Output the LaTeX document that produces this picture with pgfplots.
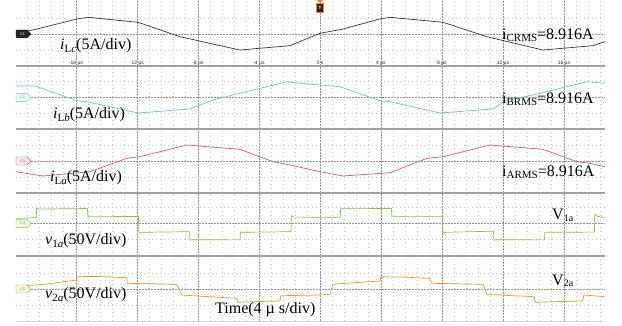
\documentclass[border=0pt]{standalone}
\usepackage{fontspec}
\setmainfont{Liberation Serif}
\newfontfamily\scopefont{Liberation Sans}
\usepackage{pgfplots}
\pgfplotsset{compat=1.18}

\definecolor{chOne}{RGB}{55,55,55}
\definecolor{chTwo}{RGB}{95,200,210}
\definecolor{chThree}{RGB}{225,85,115}
\definecolor{chFour}{RGB}{140,195,70}
\definecolor{chFive}{RGB}{240,150,45}
\definecolor{sepgray}{RGB}{160,160,160}
\definecolor{trig}{RGB}{235,125,30}

\newcommand\lab{\fontsize{16}{19}\selectfont}
\newcommand\sub[2][-3pt]{\raisebox{#1}{\fontsize{11}{11}\selectfont #2}}
\newcommand\tagfont{\scopefont\fontsize{3.6}{4}\selectfont}

% channel tag on the left edge of a panel
\newcommand\chtag[5]{%
  \begin{scope}[yshift=#1]
    \filldraw[fill=#2, draw=#3, line width=0.4pt, rounded corners=0.6pt]
      (16pt,4pt) -- (27pt,4pt) -- (31pt,0pt) -- (27pt,-4pt) -- (16pt,-4pt) -- cycle;
    \node[text=#4, font=\tagfont, inner sep=0pt] at (22.5pt,0pt) {#5};
  \end{scope}}

\pgfplotsset{
  scopepanel/.style={
    scale only axis, x=15.25pt, y=1pt,
    xmin=-19.93, xmax=18.69,
    anchor=north west,
    axis line style={draw=none},
    major tick length=0pt, minor tick length=0pt,
    xtick={-16,-12,...,16}, xticklabels={},
    minor xtick={-19.2,-18.4,...,18.4},
    ytick={0}, yticklabels={},
    minor ytick={-16,16},
    grid=both,
    major grid style={draw=black!42, dash pattern=on 1.6pt off 1.4pt, line width=0.5pt},
    minor grid style={draw=black!22, dash pattern=on 0.6pt off 3.4pt, line width=0.6pt},
    clip=false,
  },
  trace/.style={line width=0.7pt, line join=round},
}

\begin{document}
\begin{tikzpicture}
\useasboundingbox (0,0) rectangle (622pt,-326pt);
\fill[white] (0,0) rectangle (622pt,-326pt);

% i_Lc
\begin{axis}[scopepanel, at={(16pt,0pt)}, ymin=-32, ymax=34,
  xticklabels={-16 µs,-12 µs,-8 µs,-4 µs,0 s,4 µs,8 µs,12 µs,16 µs},
  xticklabel style={font=\scopefont\fontsize{5}{5.5}\selectfont, text=black!85, yshift=8.5pt}]
\addplot[trace, chOne] coordinates {
(-19.93,1) (-18.82,4) (-15.93,15) (-15.21,16.7) (-11.93,11.7) (-9.18,-2.7)
(-5.25,-16) (-1.97,-11.7) (0,0.7) (1.44,4.7) (3.93,15) (4.59,16.7)
(8.07,11.7) (10.95,-2.7) (14.62,-16) (17.90,-11.7) (18.69,-7.7)};
\end{axis}

% i_Lb
\begin{axis}[scopepanel, at={(16pt,-66pt)}, ymin=-31.3, ymax=31.7]
\addplot[trace, chTwo] coordinates {
(-19.93,11.7) (-18.69,11.7) (-15.93,-3) (-15.28,-4) (-11.93,-15.3) (-8.52,-11.3)
(-7.02,-2.3) (-5.70,2.7) (-2.16,16) (-1.31,14.4) (1.31,11) (3.93,-3)
(4.59,-4) (7.87,-15.3) (11.34,-11.3) (12.26,-2.3) (13.97,2.7) (17.51,16) (18.69,14.4)};
\end{axis}

% i_La
\begin{axis}[scopepanel, at={(16pt,-129pt)}, ymin=-32, ymax=32]
\addplot[trace, chThree] coordinates {
(-19.93,-10.7) (-18.16,-15) (-15.08,-10.7) (-12.66,2.7) (-11.80,4.3) (-8.72,16)
(-5.25,11.7) (-3.08,-0.7) (-1.97,-4) (0,-10.7) (1.51,-15) (4.59,-11.7)
(7.02,2.7) (8.07,4.3) (11.15,16) (14.62,11.7) (16.85,-0.7) (17.70,-2.3) (18.69,-5.7)};
\end{axis}

% v_1a
\begin{axis}[scopepanel, at={(16pt,-193pt)}, ymin=-32.3, ymax=30.7]
\addplot[trace, chFour] coordinates {
(-19.93,5.4) (-18.60,6.0) (-18.58,15.6) (-18.40,14.6) (-15.25,15.2) (-15.21,6.4)
(-15.10,7.0) (-11.90,7.2) (-11.87,-9.6) (-11.75,-8.6) (-8.55,-8.0) (-8.52,-16.4)
(-8.40,-16.0) (-5.24,-16.2) (-5.21,-8.2) (-5.10,-8.6) (-1.90,-8.0) (-1.87,8.0)
(-1.75,6.6) (1.33,6.4) (1.36,15.6) (1.50,15.0) (4.69,15.2) (4.72,6.6)
(4.85,7.0) (8.05,7.0) (8.07,-9.6) (8.20,-8.6) (11.38,-7.5) (11.41,-16.4)
(11.55,-16.0) (14.72,-16.2) (14.75,-8.6) (18.00,-8.4) (18.03,9.4) (18.20,7.5) (18.69,5.4)};
\end{axis}

% v_2a
\begin{axis}[scopepanel, at={(16pt,-256pt)}, ymin=-32, ymax=33]
\addplot[trace, chFive] coordinates {
(-19.93,2.5) (-17.9,5.0) (-15.96,9.0) (-15.92,12.3) (-14.6,12.6) (-13.5,11.8)
(-12.67,11.3) (-12.64,5.7) (-11.0,5.2) (-9.40,4.7) (-9.05,-6.0) (-7.4,-7.6)
(-5.45,-9.3) (-5.38,-13.3) (-4.0,-12.5) (-2.62,-12.0) (-2.56,-6.7) (0,-6.0)
(0.66,-5.3) (0.85,4.7) (2.4,6.4) (3.93,8.0) (4.00,12.3) (5.6,11.8) (7.21,10.7)
(7.32,5.7) (9.0,5.2) (10.71,4.7) (10.93,-5.3) (12.4,-6.5) (14.05,-7.7)
(14.12,-13.3) (15.6,-12.6) (17.23,-12.0) (17.31,-6.0) (18.69,-7.7)};
\end{axis}

% panel separators
\foreach \yy in {66,129,193,256}
  \draw[sepgray, line width=1.4pt] (16pt,-\yy pt) -- (605pt,-\yy pt);
\draw[black!15, line width=1pt] (16pt,-321pt) -- (605pt,-321pt);

% channel tags
\chtag{-34pt}{black!85}{black!85}{white}{C1}
\chtag{-97.7pt}{chTwo!12}{chTwo}{chTwo!80!black}{C2}
\chtag{-161pt}{chThree!12}{chThree}{chThree!80!black}{C3}
\chtag{-223.7pt}{chFour!12}{chFour}{chFour!70!black}{C4}
\chtag{-289pt}{chFive!12}{chFive}{chFive!80!black}{C5}

% trigger marker
\fill[trig] (317pt,0pt) -- (323pt,0pt) -- (320pt,-3pt) -- cycle;
\filldraw[fill=black!75!trig, draw=trig, line width=0.6pt] (316.6pt,-3.5pt) rectangle (323.4pt,-12.5pt);
\node[text=white, font=\scopefont\fontsize{4.5}{5}\selectfont\bfseries, inner sep=0pt] at (320pt,-8pt) {T};

% annotations
\node[anchor=base west, inner sep=0pt, font=\lab] at (60pt,-49.5pt) {\textit{i}\sub{L\textit{c}}(5A/div)};
\node[anchor=base west, inner sep=0pt, font=\lab] at (53pt,-118.5pt) {\textit{i}\sub{L\textit{b}}(5A/div)};
\node[anchor=base west, inner sep=0pt, font=\lab] at (50pt,-181.5pt) {\textit{i}\sub{L\textit{a}}(5A/div)};
\node[anchor=base west, inner sep=0pt, font=\lab] at (45pt,-244.5pt) {\textit{v}\sub{1\textit{a}}(50V/div)};
\node[anchor=base west, inner sep=0pt, font=\lab] at (45pt,-298.5pt) {\textit{v}\sub{2\textit{a}}(50V/div)};
\node[anchor=base west, inner sep=0pt, font=\lab] at (215pt,-313.5pt) {Time(4 µ s/div)};
\node[anchor=base west, inner sep=0pt, font=\lab] at (502pt,-40pt) {i\sub[-2pt]{CRMS}=8.916A};
\node[anchor=base west, inner sep=0pt, font=\lab] at (502pt,-104pt) {i\sub[-2pt]{BRMS}=8.916A};
\node[anchor=base west, inner sep=0pt, font=\lab] at (502pt,-177pt) {i\sub[-2pt]{ARMS}=8.916A};
\node[anchor=base west, inner sep=0pt, font=\lab] at (552pt,-220pt) {V\sub[-1.5pt]{\fontsize{10}{10}\selectfont 1a}};
\node[anchor=base west, inner sep=0pt, font=\lab] at (552pt,-285pt) {V\sub[-1.5pt]{\fontsize{10}{10}\selectfont 2a}};
\end{tikzpicture}
\end{document}
